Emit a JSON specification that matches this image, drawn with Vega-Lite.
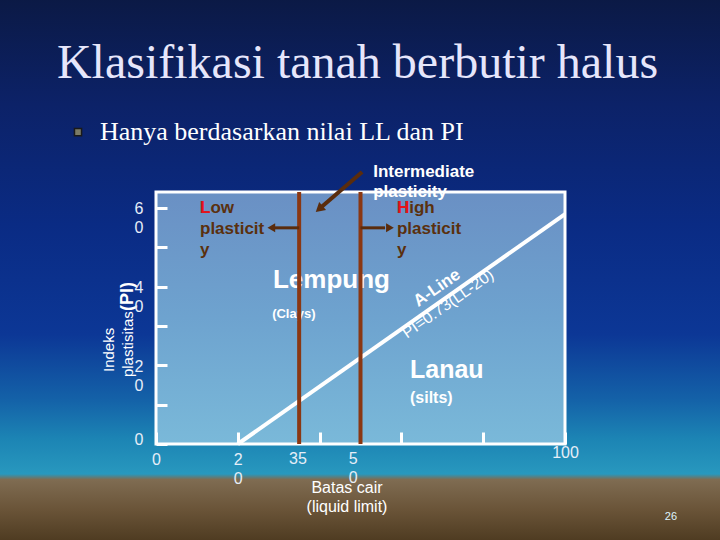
{
"$schema":"https://vega.github.io/schema/vega-lite/v6.json",
"width":409,"height":252,
"autosize":{"type":"none"},
"padding":{"left":156,"top":192,"right":155,"bottom":96},
"background":"#0b2266",
"config":{"view":{"stroke":null},"text":{"font":"Liberation Sans"}},
"layer":[
{"data":{"values":[{}]},
 "mark":{"type":"rect","fill":{"gradient":"linear","x1":0,"y1":0,"x2":0,"y2":1,"stops":[{"offset":0,"color":"#0b1944"},{"offset":0.2,"color":"#0c2268"},{"offset":0.42,"color":"#0a2b84"},{"offset":0.62,"color":"#0c3796"},{"offset":0.74,"color":"#1462a8"},{"offset":0.81,"color":"#1c84b4"},{"offset":0.875,"color":"#2898be"},{"offset":0.885,"color":"#7f6c52"},{"offset":0.94,"color":"#6a5438"},{"offset":1,"color":"#4d3a20"}]}},
 "encoding":{"x":{"datum":-39,"type":"quantitative","scale":{"domain":[0,100],"nice":false}},"x2":{"datum":139},"y":{"datum":-25,"type":"quantitative","scale":{"domain":[0,64],"nice":false}},"y2":{"datum":114}}},
{"data":{"values":[{}]},
 "mark":{"type":"rect","fill":{"gradient":"linear","x1":0,"y1":0,"x2":0,"y2":1,"stops":[{"offset":0,"color":"#6a90c4"},{"offset":0.5,"color":"#6ea3cf"},{"offset":1,"color":"#7ab9d9"}]},"stroke":"#ffffff","strokeWidth":3},
 "encoding":{
  "x":{"datum":0,"type":"quantitative","scale":{"domain":[0,100],"nice":false},
   "axis":{"values":[0,20,40,60,80,100],"title":null,"domain":false,"grid":false,"tickColor":"#ffffff","tickWidth":3,"tickSize":-12,"labelExpr":"datum.value==0?'0':datum.value==20?['2','0']:datum.value==100?'100':''","labelFont":"Liberation Sans","labelFontSize":16,"labelColor":"#e6eef8","labelLineHeight":19,"labelBaseline":"alphabetic","labelAlign":"center","labelFlush":false,"labelOverlap":false,"labelBound":false,"labelPadding":{"condition":{"test":"datum.value==100","value":25},"value":32},"zindex":1}},
  "x2":{"datum":100},
  "y":{"datum":0,"type":"quantitative","scale":{"domain":[0,64],"nice":false},
   "axis":{"values":[0,10,20,30,40,50,60],"title":null,"domain":false,"grid":false,"tickColor":"#ffffff","tickWidth":3,"tickSize":-11,"labelExpr":"datum.value==0?'0':datum.value==20?['2','0']:datum.value==40?['4','0']:datum.value==60?['6','0']:''","labelFont":"Liberation Sans","labelFontSize":16,"labelColor":"#e6eef8","labelLineHeight":19,"labelBaseline":"alphabetic","labelAlign":"right","labelOverlap":false,"labelFlush":false,"labelBound":false,"labelPadding":24,"labelOffset":{"condition":{"test":"datum.value==0","value":0},"value":6},"zindex":1}},
  "y2":{"datum":64}}},
{"data":{"values":[{"t":"Intermediate\nplasticity"}]},
 "mark":{"type":"text","fontWeight":"bold","fontSize":17,"color":"#ffffff","align":"left","baseline":"alphabetic","lineBreak":"\n","lineHeight":20},
 "encoding":{"x":{"datum":53.1,"type":"quantitative","scale":{"domain":[0,100],"nice":false}},"y":{"datum":67.8,"type":"quantitative","scale":{"domain":[0,64],"nice":false}},"text":{"field":"t"}}},
{"data":{"values":[{"t":"Low\nplasticit\ny"}]},
 "mark":{"type":"text","fontWeight":"bold","fontSize":17,"color":"#5a300e","align":"left","baseline":"alphabetic","lineBreak":"\n","lineHeight":21},
 "encoding":{"x":{"datum":10.76,"type":"quantitative","scale":{"domain":[0,100],"nice":false}},"y":{"datum":58.67,"type":"quantitative","scale":{"domain":[0,64],"nice":false}},"text":{"field":"t"}}},
{"data":{"values":[{"t":"High\nplasticit\ny"}]},
 "mark":{"type":"text","fontWeight":"bold","fontSize":17,"color":"#5a300e","align":"left","baseline":"alphabetic","lineBreak":"\n","lineHeight":21},
 "encoding":{"x":{"datum":58.9,"type":"quantitative","scale":{"domain":[0,100],"nice":false}},"y":{"datum":58.67,"type":"quantitative","scale":{"domain":[0,64],"nice":false}},"text":{"field":"t"}}},
{"data":{"values":[{"t":"L"}]},
 "mark":{"type":"text","fontWeight":"bold","fontSize":17,"color":"#e8121c","align":"left","baseline":"alphabetic"},
 "encoding":{"x":{"datum":10.76,"type":"quantitative","scale":{"domain":[0,100],"nice":false}},"y":{"datum":58.67,"type":"quantitative","scale":{"domain":[0,64],"nice":false}},"text":{"field":"t"}}},
{"data":{"values":[{"t":"H"}]},
 "mark":{"type":"text","fontWeight":"bold","fontSize":17,"color":"#e8121c","align":"left","baseline":"alphabetic"},
 "encoding":{"x":{"datum":58.9,"type":"quantitative","scale":{"domain":[0,100],"nice":false}},"y":{"datum":58.67,"type":"quantitative","scale":{"domain":[0,64],"nice":false}},"text":{"field":"t"}}},
{"data":{"values":[{"t":"Lempung"}]},
 "mark":{"type":"text","fontWeight":"bold","fontSize":26,"color":"#ffffff","align":"left","baseline":"alphabetic"},
 "encoding":{"x":{"datum":28.6,"type":"quantitative","scale":{"domain":[0,100],"nice":false}},"y":{"datum":39.6,"type":"quantitative","scale":{"domain":[0,64],"nice":false}},"text":{"field":"t"}}},
{"data":{"values":[{"t":"(Clays)"}]},
 "mark":{"type":"text","fontWeight":"bold","fontSize":13,"color":"#ffffff","align":"left","baseline":"alphabetic"},
 "encoding":{"x":{"datum":28.4,"type":"quantitative","scale":{"domain":[0,100],"nice":false}},"y":{"datum":32.0,"type":"quantitative","scale":{"domain":[0,64],"nice":false}},"text":{"field":"t"}}},
{"data":{"values":[{"t":"Lanau"}]},
 "mark":{"type":"text","fontWeight":"bold","fontSize":25,"color":"#ffffff","align":"left","baseline":"alphabetic"},
 "encoding":{"x":{"datum":62.1,"type":"quantitative","scale":{"domain":[0,100],"nice":false}},"y":{"datum":16.76,"type":"quantitative","scale":{"domain":[0,64],"nice":false}},"text":{"field":"t"}}},
{"data":{"values":[{"t":"(silts)"}]},
 "mark":{"type":"text","fontWeight":"bold","fontSize":16,"color":"#ffffff","align":"left","baseline":"alphabetic"},
 "encoding":{"x":{"datum":62.1,"type":"quantitative","scale":{"domain":[0,100],"nice":false}},"y":{"datum":10.4,"type":"quantitative","scale":{"domain":[0,64],"nice":false}},"text":{"field":"t"}}},
{"data":{"values":[{"t":"A-Line"}]},
 "mark":{"type":"text","fontWeight":"bold","fontSize":17,"color":"#ffffff","align":"center","baseline":"middle","angle":325},
 "encoding":{"x":{"datum":68.7,"type":"quantitative","scale":{"domain":[0,100],"nice":false}},"y":{"datum":39.6,"type":"quantitative","scale":{"domain":[0,64],"nice":false}},"text":{"field":"t"}}},
{"data":{"values":[{"t":"PI=0.73(LL-20)"}]},
 "mark":{"type":"text","fontSize":16,"color":"#ffffff","align":"center","baseline":"middle","angle":325},
 "encoding":{"x":{"datum":71.4,"type":"quantitative","scale":{"domain":[0,100],"nice":false}},"y":{"datum":35.6,"type":"quantitative","scale":{"domain":[0,64],"nice":false}},"text":{"field":"t"}}},
{"data":{"values":[{"LL":20,"PI":0},{"LL":100,"PI":58.4}]},
 "mark":{"type":"line","color":"#ffffff","strokeWidth":4},
 "encoding":{"x":{"field":"LL","type":"quantitative","scale":{"domain":[0,100],"nice":false}},"y":{"field":"PI","type":"quantitative","scale":{"domain":[0,64],"nice":false}}}},
{"data":{"values":[{"LL":35},{"LL":50}]},
 "mark":{"type":"rule","color":"#8a3712","strokeWidth":4},
 "encoding":{"x":{"field":"LL","type":"quantitative","scale":{"domain":[0,100],"nice":false}},"y":{"datum":0,"type":"quantitative","scale":{"domain":[0,64],"nice":false}},"y2":{"datum":64}}},
{"data":{"values":[{"from":35,"to":29},{"from":50,"to":56}]},
 "mark":{"type":"rule","color":"#5a2c0c","strokeWidth":3},
 "encoding":{"x":{"field":"from","type":"quantitative","scale":{"domain":[0,100],"nice":false}},"x2":{"field":"to"},"y":{"datum":54.9,"type":"quantitative","scale":{"domain":[0,64],"nice":false}}}},
{"data":{"values":[{}]},
 "mark":{"type":"point","shape":"triangle-left","filled":true,"size":80,"color":"#5a2c0c","opacity":1},
 "encoding":{"x":{"datum":28.2,"type":"quantitative","scale":{"domain":[0,100],"nice":false}},"y":{"datum":54.9,"type":"quantitative","scale":{"domain":[0,64],"nice":false}}}},
{"data":{"values":[{}]},
 "mark":{"type":"point","shape":"triangle-right","filled":true,"size":80,"color":"#5a2c0c","opacity":1},
 "encoding":{"x":{"datum":57.2,"type":"quantitative","scale":{"domain":[0,100],"nice":false}},"y":{"datum":54.9,"type":"quantitative","scale":{"domain":[0,64],"nice":false}}}},
{"data":{"values":[{}]},
 "mark":{"type":"rule","color":"#5a2c0c","strokeWidth":4},
 "encoding":{"x":{"datum":50.4,"type":"quantitative","scale":{"domain":[0,100],"nice":false}},"x2":{"datum":40.6},"y":{"datum":69.1,"type":"quantitative","scale":{"domain":[0,64],"nice":false}},"y2":{"datum":60.3}}},
{"data":{"values":[{}]},
 "mark":{"type":"point","shape":"triangle-up","filled":true,"size":110,"color":"#5a2c0c","opacity":1,"angle":229},
 "encoding":{"x":{"datum":39.9,"type":"quantitative","scale":{"domain":[0,100],"nice":false}},"y":{"datum":59.7,"type":"quantitative","scale":{"domain":[0,64],"nice":false}}}},
{"data":{"values":[{"t":"Klasifikasi tanah berbutir halus"}]},
 "mark":{"type":"text","font":"Liberation Serif","fontSize":48,"color":"#e6e6fb","align":"center","baseline":"alphabetic"},
 "encoding":{"x":{"datum":49.27,"type":"quantitative","scale":{"domain":[0,100],"nice":false}},"y":{"datum":92.95,"type":"quantitative","scale":{"domain":[0,64],"nice":false}},"text":{"field":"t"}}},
{"data":{"values":[{}]},
 "mark":{"type":"point","shape":"square","filled":true,"size":50,"fill":"#7b7b66","stroke":"#1a1a1a","strokeWidth":1.5,"opacity":1},
 "encoding":{"x":{"datum":-19.07,"type":"quantitative","scale":{"domain":[0,100],"nice":false}},"y":{"datum":79.2,"type":"quantitative","scale":{"domain":[0,64],"nice":false}}}},
{"data":{"values":[{"t":"Hanya berdasarkan nilai LL dan PI"}]},
 "mark":{"type":"text","font":"Liberation Serif","fontSize":26,"color":"#ffffff","align":"left","baseline":"alphabetic"},
 "encoding":{"x":{"datum":-13.7,"type":"quantitative","scale":{"domain":[0,100],"nice":false}},"y":{"datum":77.2,"type":"quantitative","scale":{"domain":[0,64],"nice":false}},"text":{"field":"t"}}},
{"data":{"values":[{"t":"Indeks"}]},
 "mark":{"type":"text","fontSize":15,"color":"#ffffff","align":"center","baseline":"middle","angle":270},
 "encoding":{"x":{"datum":-11.5,"type":"quantitative","scale":{"domain":[0,100],"nice":false}},"y":{"datum":23.9,"type":"quantitative","scale":{"domain":[0,64],"nice":false}},"text":{"field":"t"}}},
{"data":{"values":[{"t":"plastisitas"}]},
 "mark":{"type":"text","fontSize":15,"color":"#ffffff","align":"left","baseline":"middle","angle":270},
 "encoding":{"x":{"datum":-6.85,"type":"quantitative","scale":{"domain":[0,100],"nice":false}},"y":{"datum":17.0,"type":"quantitative","scale":{"domain":[0,64],"nice":false}},"text":{"field":"t"}}},
{"data":{"values":[{"t":"(PI)"}]},
 "mark":{"type":"text","fontSize":18,"fontWeight":"bold","color":"#ffffff","align":"left","baseline":"middle","angle":270},
 "encoding":{"x":{"datum":-6.85,"type":"quantitative","scale":{"domain":[0,100],"nice":false}},"y":{"datum":33.8,"type":"quantitative","scale":{"domain":[0,64],"nice":false}},"text":{"field":"t"}}},
{"data":{"values":[{"t":"35"}]},
 "mark":{"type":"text","fontSize":16,"color":"#e6eef8","align":"center","baseline":"alphabetic"},
 "encoding":{"x":{"datum":34.7,"type":"quantitative","scale":{"domain":[0,100],"nice":false}},"y":{"datum":-5.08,"type":"quantitative","scale":{"domain":[0,64],"nice":false}},"text":{"field":"t"}}},
{"data":{"values":[{"t":"5\n0"}]},
 "mark":{"type":"text","fontSize":16,"color":"#e6eef8","align":"center","baseline":"alphabetic","lineBreak":"\n","lineHeight":19},
 "encoding":{"x":{"datum":48.2,"type":"quantitative","scale":{"domain":[0,100],"nice":false}},"y":{"datum":-5.08,"type":"quantitative","scale":{"domain":[0,64],"nice":false}},"text":{"field":"t"}}},
{"data":{"values":[{"t":"Batas cair\n(liquid limit)"}]},
 "mark":{"type":"text","fontSize":16,"color":"#ffffff","align":"center","baseline":"alphabetic","lineBreak":"\n","lineHeight":19},
 "encoding":{"x":{"datum":46.7,"type":"quantitative","scale":{"domain":[0,100],"nice":false}},"y":{"datum":-12.44,"type":"quantitative","scale":{"domain":[0,64],"nice":false}},"text":{"field":"t"}}},
{"data":{"values":[{"t":"26"}]},
 "mark":{"type":"text","fontSize":11,"color":"#dff4ff","align":"center","baseline":"middle"},
 "encoding":{"x":{"datum":125.9,"type":"quantitative","scale":{"domain":[0,100],"nice":false}},"y":{"datum":-18.5,"type":"quantitative","scale":{"domain":[0,64],"nice":false}},"text":{"field":"t"}}}
]
}
